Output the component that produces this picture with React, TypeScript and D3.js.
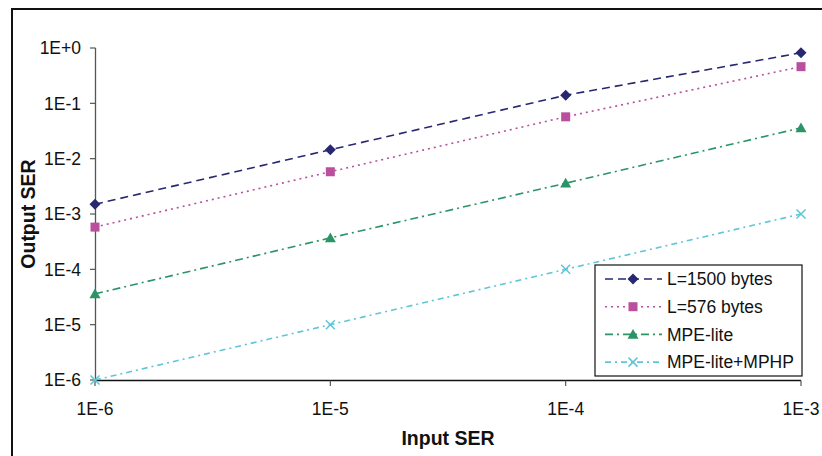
import React from "react";
import * as d3 from "d3";

const inputSER = [1e-6, 1e-5, 1e-4, 1e-3];
const l1500 = [1.5e-3, 1.45e-2, 0.14, 0.82];
const l576 = [5.8e-4, 5.8e-3, 5.7e-2, 0.46];
const mpeLite = [3.6e-5, 3.7e-4, 3.6e-3, 3.6e-2];
const mpeMphp = [1e-6, 1e-5, 1e-4, 1e-3];
const xTicks = [1e-6, 1e-5, 1e-4, 1e-3];
const xTickLabels = ["1E-6", "1E-5", "1E-4", "1E-3"];
const yTicks = [1, 1e-1, 1e-2, 1e-3, 1e-4, 1e-5, 1e-6];
const yTickLabels = ["1E+0", "1E-1", "1E-2", "1E-3", "1E-4", "1E-5", "1E-6"];
const seriesNames = ["L=1500 bytes", "L=576 bytes", "MPE-lite", "MPE-lite+MPHP"];

const series = [
  { name: seriesNames[0], values: l1500, color: "#27286f", dash: "8,5", marker: "diamond" },
  { name: seriesNames[1], values: l576, color: "#b94f9d", dash: "2,4", marker: "square" },
  { name: seriesNames[2], values: mpeLite, color: "#2a9466", dash: "8,4,2,4", marker: "triangle" },
  { name: seriesNames[3], values: mpeMphp, color: "#5ec6d6", dash: "6,4,2,4", marker: "x" },
];

const FONT = "Arial, 'Liberation Sans', sans-serif";

function Marker({ type, x, y, color }: { type: string; x: number; y: number; color: string }) {
  if (type === "diamond") {
    const s = 5.5;
    return <path d={`M${x},${y - s}L${x + s},${y}L${x},${y + s}L${x - s},${y}Z`} fill={color} />;
  }
  if (type === "square") {
    const s = 4.5;
    return <rect x={x - s} y={y - s} width={2 * s} height={2 * s} fill={color} />;
  }
  if (type === "triangle") {
    const s = 5.5;
    return <path d={`M${x},${y - s}L${x + s},${y + s * 0.8}L${x - s},${y + s * 0.8}Z`} fill={color} />;
  }
  const s = 4.5;
  return (
    <path
      d={`M${x - s},${y - s}L${x + s},${y + s}M${x - s},${y + s}L${x + s},${y - s}`}
      stroke={color}
      strokeWidth={1.5}
    />
  );
}

export default function App() {
  const W = 822, H = 456;
  const x = d3.scaleLog().domain([1e-6, 1e-3]).range([95, 801]);
  const y = d3.scaleLog().domain([1e-6, 1]).range([380, 48]);
  const line = d3
    .line<[number, number]>()
    .x((d) => x(d[0]))
    .y((d) => y(d[1]));

  const legX = 595, legY = 265, legW = 207, legH = 111;
  const legRow = 27.7;

  return (
    <svg width={W} height={H} style={{ position: "absolute", left: 0, top: 0 }} fontFamily={FONT}>
      <rect x={0} y={0} width={W} height={H} fill="#fff" />
      <rect x={12} y={9} width={W + 20} height={H + 20} fill="none" stroke="#111" strokeWidth={2} />
      {/* axes */}
      <line x1={95.5} x2={95.5} y1={y(1)} y2={y(1e-6)} stroke="#555" strokeWidth={1.3} />
      <line x1={95} x2={801} y1={380.5} y2={380.5} stroke="#111" strokeWidth={1.5} />
      {yTicks.map((t, i) => (
        <g key={"y" + i}>
          <line x1={90} x2={95.5} y1={y(t)} y2={y(t)} stroke="#555" strokeWidth={1.2} />
          <text x={81} y={y(t)} dy="0.36em" textAnchor="end" fontSize={17.5} fill="#111">
            {yTickLabels[i]}
          </text>
        </g>
      ))}
      {xTicks.map((t, i) => (
        <g key={"x" + i}>
          <line x1={x(t)} x2={x(t)} y1={380.5} y2={386} stroke="#555" strokeWidth={1.2} />
          <text x={x(t)} y={409} dy="0.36em" textAnchor="middle" fontSize={17.5} fill="#111">
            {xTickLabels[i]}
          </text>
        </g>
      ))}
      <text x={448} y={438} dy="0.36em" textAnchor="middle" fontSize={19.5} fontWeight="bold" fill="#111">
        Input SER
      </text>
      <text
        transform={`translate(28,${214}) rotate(-90)`}
        dy="0.36em"
        textAnchor="middle"
        fontSize={19.5}
        fontWeight="bold"
        fill="#111"
      >
        Output SER
      </text>
      {series.map((s) => (
        <g key={s.name}>
          <path
            d={line(inputSER.map((v, i) => [v, s.values[i]] as [number, number])) || ""}
            fill="none"
            stroke={s.color}
            strokeWidth={1.6}
            strokeDasharray={s.dash}
          />
          {inputSER.map((v, i) => (
            <Marker key={i} type={s.marker} x={x(v)} y={y(s.values[i])} color={s.color} />
          ))}
        </g>
      ))}
      {/* legend */}
      <rect x={legX} y={legY} width={legW} height={legH} fill="#fff" stroke="#111" strokeWidth={1.2} />
      {series.map((s, i) => {
        const cy = legY + 14 + i * legRow;
        return (
          <g key={"l" + i}>
            <line x1={605} x2={662} y1={cy} y2={cy} stroke={s.color} strokeWidth={1.6} strokeDasharray={s.dash} />
            <Marker type={s.marker} x={633} y={cy} color={s.color} />
            <text x={667} y={cy} dy="0.36em" fontSize={17.5} fill="#111">
              {s.name}
            </text>
          </g>
        );
      })}
    </svg>
  );
}
